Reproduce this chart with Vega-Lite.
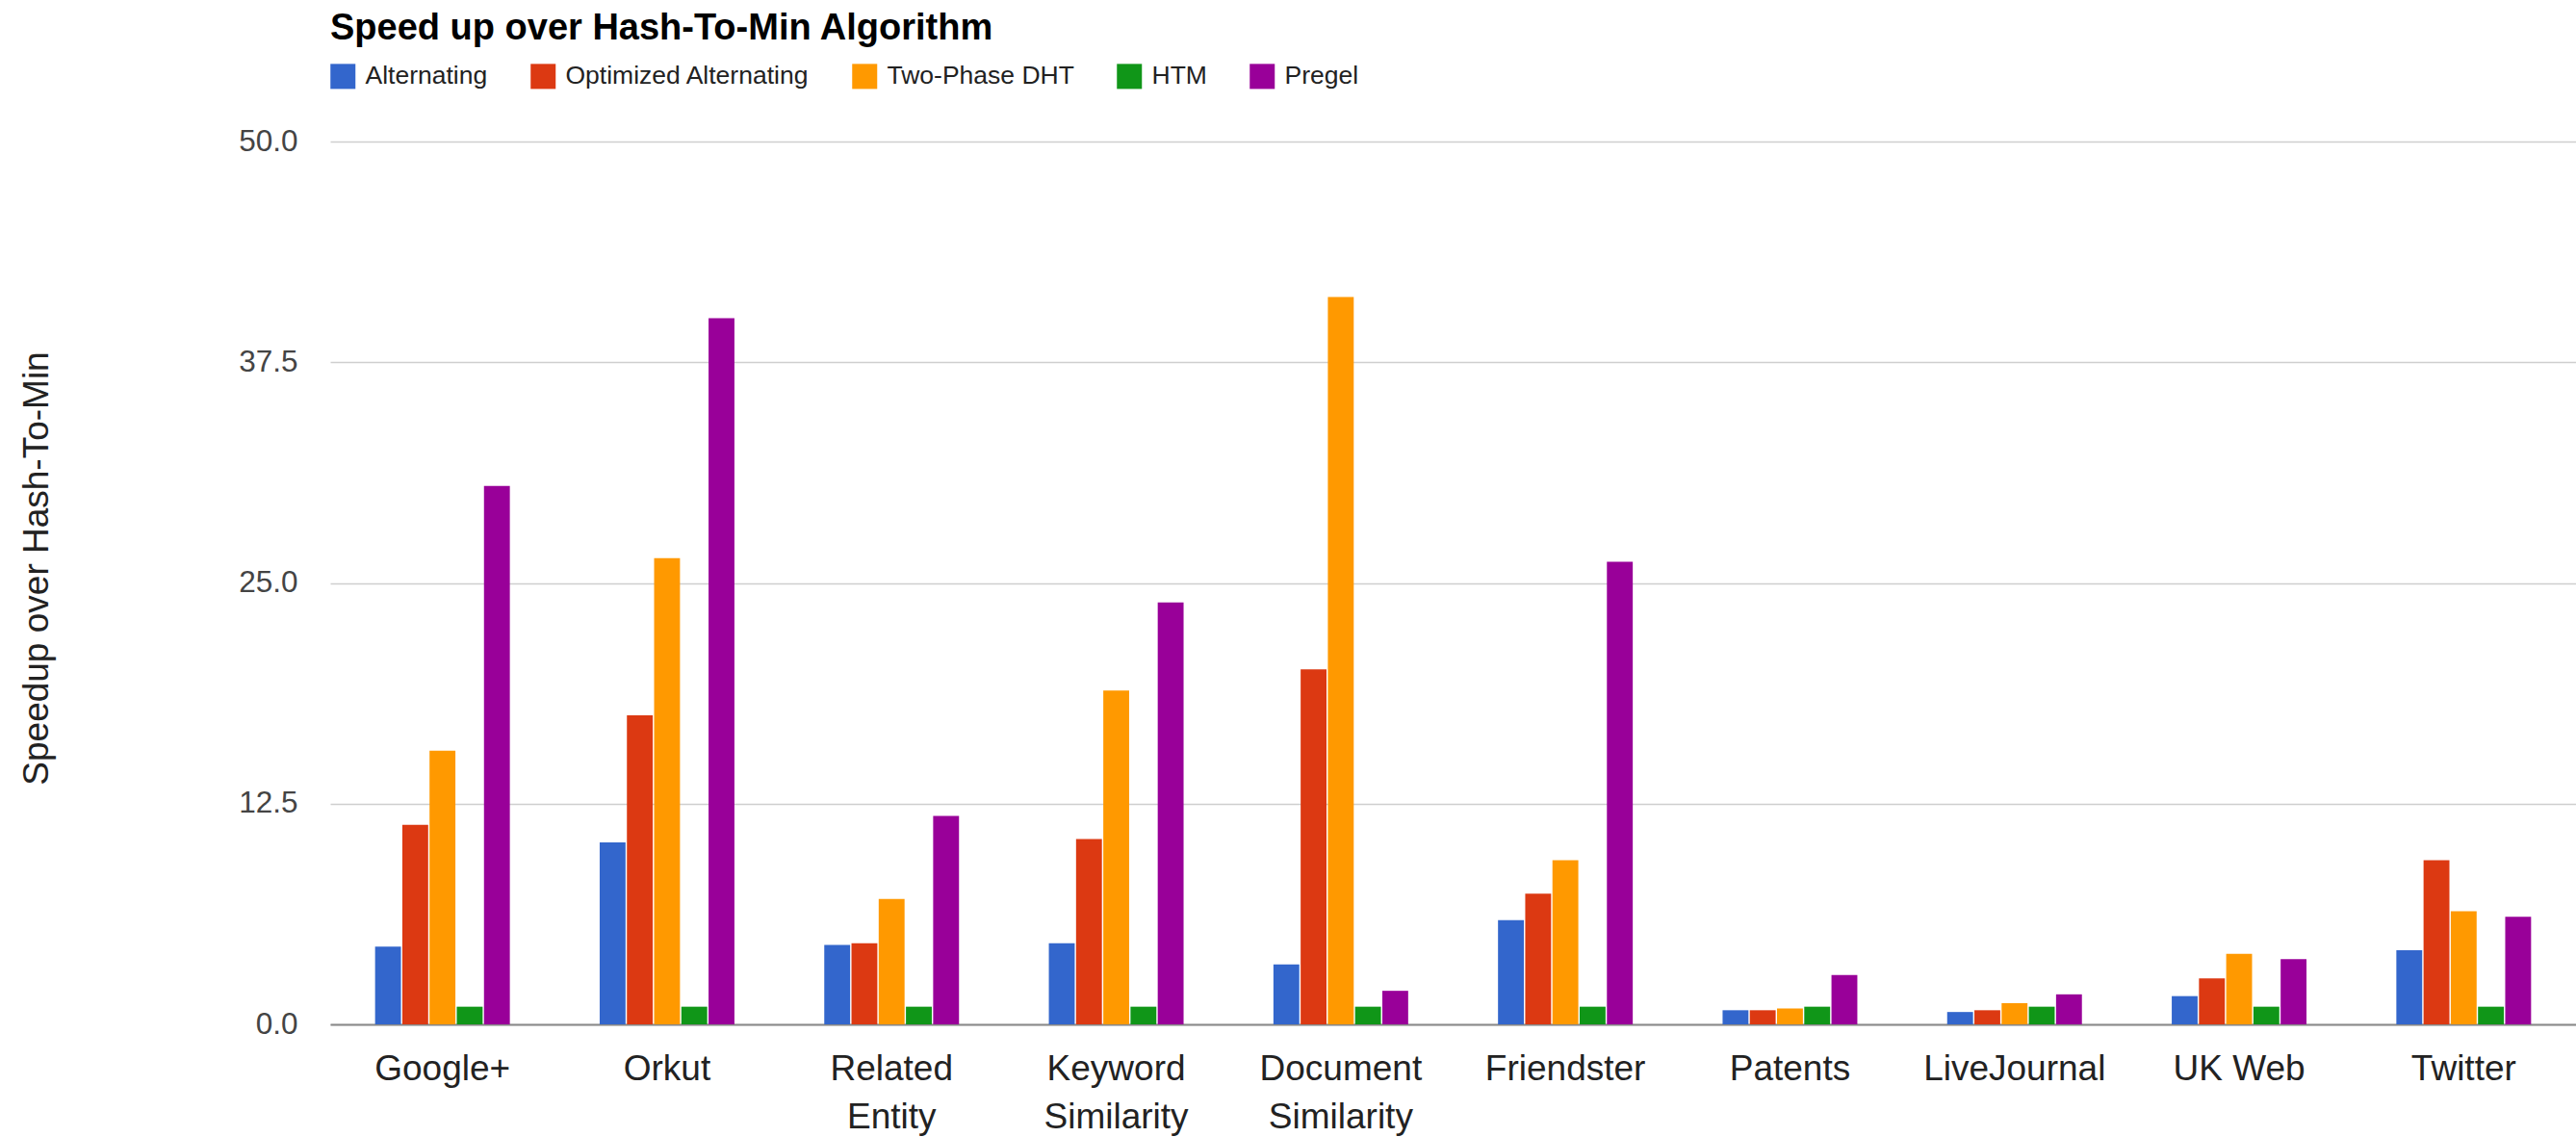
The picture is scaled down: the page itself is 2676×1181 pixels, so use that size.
{
  "$schema": "https://vega.github.io/schema/vega-lite/v6.json",
  "autosize": {"type": "none"},
  "width": 2333,
  "height": 917,
  "padding": {"left": 343, "top": 147, "right": 0, "bottom": 117},
  "background": "white",
  "title": {
    "text": "Speed up over Hash-To-Min Algorithm",
    "anchor": "start",
    "frame": "group",
    "orient": "top",
    "fontSize": 38,
    "fontWeight": "bold",
    "color": "#000000",
    "offset": 17
  },
  "data": {
    "values": [
      {"dataset": "Google+", "algorithm": "Alternating", "speedup": 4.4},
      {"dataset": "Google+", "algorithm": "Optimized Alternating", "speedup": 11.3},
      {"dataset": "Google+", "algorithm": "Two-Phase DHT", "speedup": 15.5},
      {"dataset": "Google+", "algorithm": "HTM", "speedup": 1.0},
      {"dataset": "Google+", "algorithm": "Pregel", "speedup": 30.5},
      {"dataset": "Orkut", "algorithm": "Alternating", "speedup": 10.3},
      {"dataset": "Orkut", "algorithm": "Optimized Alternating", "speedup": 17.5},
      {"dataset": "Orkut", "algorithm": "Two-Phase DHT", "speedup": 26.4},
      {"dataset": "Orkut", "algorithm": "HTM", "speedup": 1.0},
      {"dataset": "Orkut", "algorithm": "Pregel", "speedup": 40.0},
      {"dataset": "Related Entity", "algorithm": "Alternating", "speedup": 4.5},
      {"dataset": "Related Entity", "algorithm": "Optimized Alternating", "speedup": 4.6},
      {"dataset": "Related Entity", "algorithm": "Two-Phase DHT", "speedup": 7.1},
      {"dataset": "Related Entity", "algorithm": "HTM", "speedup": 1.0},
      {"dataset": "Related Entity", "algorithm": "Pregel", "speedup": 11.8},
      {"dataset": "Keyword Similarity", "algorithm": "Alternating", "speedup": 4.6},
      {"dataset": "Keyword Similarity", "algorithm": "Optimized Alternating", "speedup": 10.5},
      {"dataset": "Keyword Similarity", "algorithm": "Two-Phase DHT", "speedup": 18.9},
      {"dataset": "Keyword Similarity", "algorithm": "HTM", "speedup": 1.0},
      {"dataset": "Keyword Similarity", "algorithm": "Pregel", "speedup": 23.9},
      {"dataset": "Document Similarity", "algorithm": "Alternating", "speedup": 3.4},
      {"dataset": "Document Similarity", "algorithm": "Optimized Alternating", "speedup": 20.1},
      {"dataset": "Document Similarity", "algorithm": "Two-Phase DHT", "speedup": 41.2},
      {"dataset": "Document Similarity", "algorithm": "HTM", "speedup": 1.0},
      {"dataset": "Document Similarity", "algorithm": "Pregel", "speedup": 1.9},
      {"dataset": "Friendster", "algorithm": "Alternating", "speedup": 5.9},
      {"dataset": "Friendster", "algorithm": "Optimized Alternating", "speedup": 7.4},
      {"dataset": "Friendster", "algorithm": "Two-Phase DHT", "speedup": 9.3},
      {"dataset": "Friendster", "algorithm": "HTM", "speedup": 1.0},
      {"dataset": "Friendster", "algorithm": "Pregel", "speedup": 26.2},
      {"dataset": "Patents", "algorithm": "Alternating", "speedup": 0.8},
      {"dataset": "Patents", "algorithm": "Optimized Alternating", "speedup": 0.8},
      {"dataset": "Patents", "algorithm": "Two-Phase DHT", "speedup": 0.9},
      {"dataset": "Patents", "algorithm": "HTM", "speedup": 1.0},
      {"dataset": "Patents", "algorithm": "Pregel", "speedup": 2.8},
      {"dataset": "LiveJournal", "algorithm": "Alternating", "speedup": 0.7},
      {"dataset": "LiveJournal", "algorithm": "Optimized Alternating", "speedup": 0.8},
      {"dataset": "LiveJournal", "algorithm": "Two-Phase DHT", "speedup": 1.2},
      {"dataset": "LiveJournal", "algorithm": "HTM", "speedup": 1.0},
      {"dataset": "LiveJournal", "algorithm": "Pregel", "speedup": 1.7},
      {"dataset": "UK Web", "algorithm": "Alternating", "speedup": 1.6},
      {"dataset": "UK Web", "algorithm": "Optimized Alternating", "speedup": 2.6},
      {"dataset": "UK Web", "algorithm": "Two-Phase DHT", "speedup": 4.0},
      {"dataset": "UK Web", "algorithm": "HTM", "speedup": 1.0},
      {"dataset": "UK Web", "algorithm": "Pregel", "speedup": 3.7},
      {"dataset": "Twitter", "algorithm": "Alternating", "speedup": 4.2},
      {"dataset": "Twitter", "algorithm": "Optimized Alternating", "speedup": 9.3},
      {"dataset": "Twitter", "algorithm": "Two-Phase DHT", "speedup": 6.4},
      {"dataset": "Twitter", "algorithm": "HTM", "speedup": 1.0},
      {"dataset": "Twitter", "algorithm": "Pregel", "speedup": 6.1}
    ]
  },
  "mark": {"type": "bar"},
  "encoding": {
    "x": {
      "field": "dataset",
      "type": "nominal",
      "sort": ["Google+", "Orkut", "Related Entity", "Keyword Similarity", "Document Similarity", "Friendster", "Patents", "LiveJournal", "UK Web", "Twitter"],
      "scale": {"paddingInner": 0.4, "paddingOuter": 0.2},
      "axis": {
        "title": null,
        "labelAngle": 0,
        "labelFontSize": 37,
        "labelColor": "#222222",
        "labelPadding": 28,
        "labelBaseline": "top",
        "labelLineHeight": 50,
        "labelLimit": 0,
        "labelExpr": "datum.value == 'UK Web' ? datum.value : split(datum.value, ' ')",
        "ticks": false,
        "domainColor": "#888888",
        "domainWidth": 2
      }
    },
    "xOffset": {
      "field": "algorithm",
      "type": "nominal",
      "sort": ["Alternating", "Optimized Alternating", "Two-Phase DHT", "HTM", "Pregel"],
      "scale": {"paddingInner": 0.05}
    },
    "y": {
      "field": "speedup",
      "type": "quantitative",
      "scale": {"domain": [0, 50], "nice": false},
      "axis": {
        "values": [0, 12.5, 25, 37.5, 50],
        "format": ".1f",
        "grid": true,
        "gridColor": "#cfcfcf",
        "gridWidth": 1.5,
        "domain": false,
        "ticks": false,
        "labelFontSize": 31.5,
        "labelColor": "#444444",
        "labelPadding": 34,
        "title": "Speedup over Hash-To-Min",
        "titleFontSize": 37,
        "titleFontWeight": "normal",
        "titleColor": "#222222",
        "titleX": -305,
        "titleY": 443,
        "titleAngle": -90,
        "titleAlign": "center",
        "titleBaseline": "middle"
      }
    },
    "color": {
      "field": "algorithm",
      "type": "nominal",
      "sort": ["Alternating", "Optimized Alternating", "Two-Phase DHT", "HTM", "Pregel"],
      "scale": {
        "domain": ["Alternating", "Optimized Alternating", "Two-Phase DHT", "HTM", "Pregel"],
        "range": ["#3366cc", "#dc3912", "#ff9900", "#109618", "#990099"]
      },
      "legend": {
        "title": null,
        "orient": "none",
        "legendX": 0,
        "legendY": -81,
        "direction": "horizontal",
        "symbolType": "square",
        "symbolSize": 676,
        "symbolStrokeWidth": 0,
        "symbolOpacity": 1,
        "labelFontSize": 26.5,
        "labelColor": "#222222",
        "labelOffset": 10,
        "columnPadding": 44,
        "padding": 0,
        "labelLimit": 0
      }
    }
  },
  "config": {
    "view": {"stroke": null},
    "font": "Liberation Sans"
  }
}
